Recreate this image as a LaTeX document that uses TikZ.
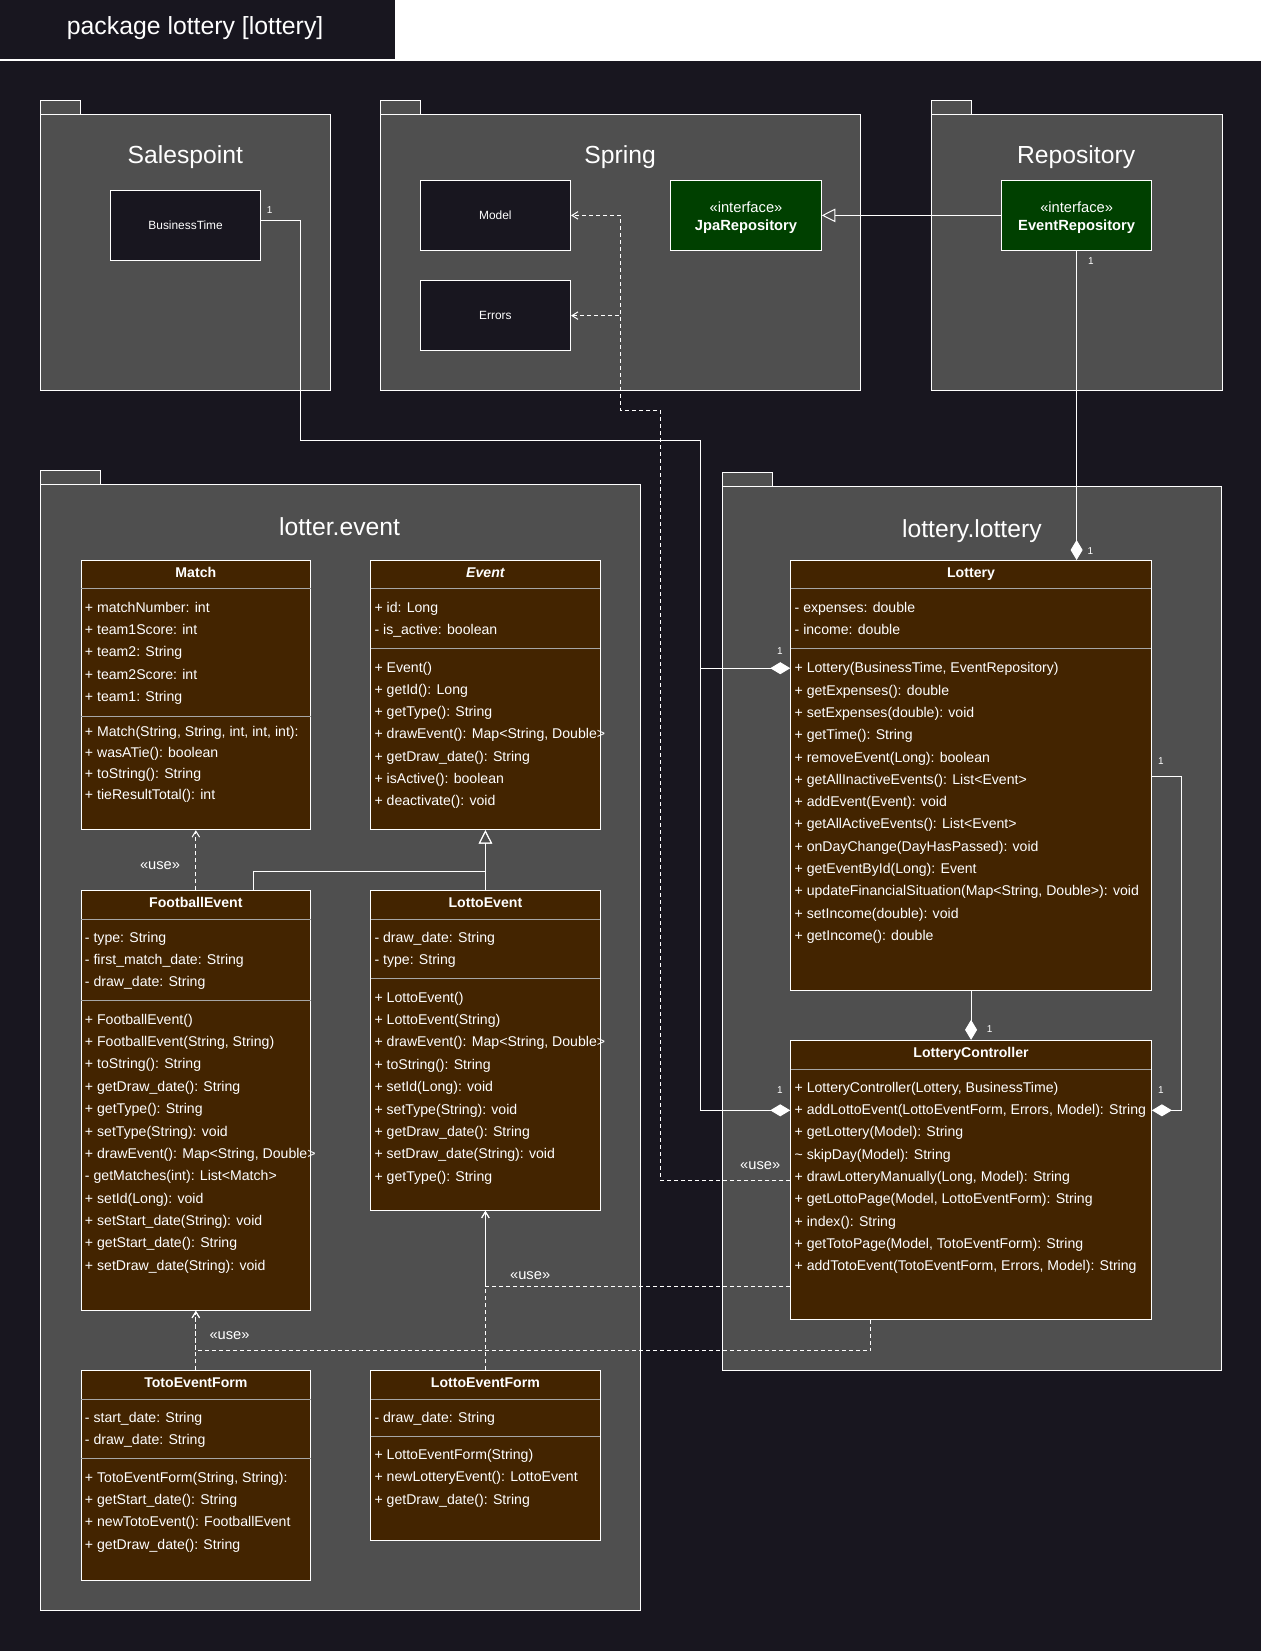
\documentclass[tikz,border=0pt]{standalone}
\usepackage{fontspec}
\setmainfont{Liberation Sans}
\usetikzlibrary{arrows.meta,fit,calc}

\definecolor{bgdark}{HTML}{18161F}
\definecolor{pkggray}{HTML}{4F4F4F}
\definecolor{clsbrown}{HTML}{432400}
\definecolor{ifgreen}{HTML}{004000}
\definecolor{sepgray}{HTML}{A6A6A6}

\tikzset{
  conn/.style={draw=white, line width=1pt},
  comp/.style={conn, -{Diamond[length=20pt,width=12pt,fill=white]}},
  dep/.style={conn, dash pattern=on 4pt off 3pt, -{Straight Barb[length=6pt,width=7.5pt]}},
  gen/.style={conn, -{Triangle[open,length=13.5pt,width=13.5pt]}},
  pkgbox/.style={draw=white, fill=pkggray, line width=1pt, inner sep=0pt},
  clsbox/.style={draw=white, fill=clsbrown, line width=1pt, inner sep=0pt},
  ifbox/.style={draw=white, fill=ifgreen, line width=1pt, inner sep=0pt},
  plainbox/.style={draw=white, fill=bgdark, line width=1pt, inner sep=0pt},
  sepline/.style={draw=sepgray, line width=0.8pt},
  rowtext/.style={anchor=base west, inner sep=0pt, text=white, font=\fontsize{14.1pt}{16pt}\selectfont},
  clsname/.style={anchor=base, inner sep=0pt, text=white, font=\bfseries\fontsize{14.1pt}{16pt}\selectfont},
  pkgtitle/.style={anchor=base, inner sep=0pt, text=white, font=\fontsize{24.7pt}{28pt}\selectfont},
  mult/.style={anchor=base, inner sep=0pt, text=white, font=\fontsize{10pt}{12pt}\selectfont},
  uselabel/.style={anchor=base, inner sep=0pt, text=white, font=\fontsize{14.7pt}{17pt}\selectfont},
  smalltext/.style={anchor=base, inner sep=0pt, text=white, font=\fontsize{11.9pt}{14pt}\selectfont},
  iftext/.style={anchor=base, inner sep=0pt, text=white, font=\fontsize{14.7pt}{17pt}\selectfont},
}

% rows of a class compartment: prefix, left edge, first row centre, row step, list
\newcommand\classrows[5]{%
  \foreach \rowtxt [count=\rowi] in {#5} {
    \node[rowtext] (#1-\rowi) at ({#2+3.5}, {#3+(\rowi-1)*#4+4.3}) {\rowtxt};
  }%
}

\begin{document}
\begin{tikzpicture}[x=1.0526pt, y=-1.0526pt]
\useasboundingbox (0,0) rectangle (1198,1568);
\fill[white] (0,0) rectangle (1198,1568);
\fill[bgdark] (0,0) rectangle (375.3,56.3);
\fill[bgdark] (0,57.9) rectangle (1198,1568);
\node[pkgtitle, font=\fontsize{24.8pt}{28pt}\selectfont] (frame-title) at (185.3,32.3) {package lottery [lottery]};

% ---------- packages ----------
\node[pkgbox, fit={(38.2,95.6) (76.2,108.6)}] (salespoint-tab) {};
\node[pkgbox, fit={(38.2,108.6) (313.9,370.5)}] (salespoint) {};
\node[pkgtitle] (salespoint-title) at (176,155.4) {Salespoint};

\node[pkgbox, fit={(361.2,95.6) (399.2,108.6)}] (spring-tab) {};
\node[pkgbox, fit={(361.2,108.6) (817.6,370.8)}] (spring) {};
\node[pkgtitle] (spring-title) at (589,155.4) {Spring};

\node[pkgbox, fit={(884.4,95.6) (922.7,108.6)}] (repository-tab) {};
\node[pkgbox, fit={(884.4,108.6) (1160.6,370.8)}] (repository) {};
\node[pkgtitle] (repository-title) at (1022,155.4) {Repository};

\node[pkgbox, fit={(38.3,447.2) (95.7,460.1)}] (event-pkg-tab) {};
\node[pkgbox, fit={(38.3,460.1) (608.3,1529.5)}] (event-pkg) {};
\node[pkgtitle] (event-pkg-title) at (322.5,508.3) {lotter.event};

\node[pkgbox, fit={(686.6,448.7) (734,462)}] (lottery-pkg-tab) {};
\node[pkgbox, fit={(686.6,462) (1160,1301.5)}] (lottery-pkg) {};
\node[pkgtitle] (lottery-pkg-title) at (923,510.6) {lottery.lottery};

% ---------- simple boxes ----------
\node[plainbox, fit={(105,180.8) (247.6,247.3)}] (bt) {};
\node[smalltext] (bt-name) at (176.3,217.8) {BusinessTime};
\node[plainbox, fit={(399.2,171.3) (541.9,237.8)}] (model) {};
\node[smalltext] (model-name) at (470.5,208.5) {Model};
\node[plainbox, fit={(399.2,266.7) (541.9,332.8)}] (errors) {};
\node[smalltext] (errors-name) at (470.5,303.7) {Errors};

\node[ifbox, fit={(637,171.3) (780,237.8)}] (jpa) {};
\node[iftext] (jpa-st) at (708.5,201.5) {«interface»};
\node[iftext, font=\bfseries\fontsize{14.7pt}{17pt}\selectfont] (jpa-name) at (708.5,218.6) {JpaRepository};
\node[ifbox, fit={(951,171.3) (1094,237.8)}] (er) {};
\node[iftext] (er-st) at (1022.5,201.5) {«interface»};
\node[iftext, font=\bfseries\fontsize{14.7pt}{17pt}\selectfont] (er-name) at (1022.5,218.6) {EventRepository};

% ---------- classes of lotter.event ----------
\node[clsbox, fit={(77,532.3) (295,788)}] (match) {};
\draw[sepline] (77,559) -- (295,559) (77,680) -- (295,680);
\node[clsname] (match-name) at (186,548.2) {Match};
\classrows{match-a}{77}{577}{21.2}{{+ matchNumber: int},{+ team1Score: int},{+ team2: String},{+ team2Score: int},{+ team1: String}}
\classrows{match-m}{77}{695.1}{20.1}{{+ Match(String, String, int, int, int):},{+ wasATie(): boolean},{+ toString(): String},{+ tieResultTotal(): int}}

\node[clsbox, fit={(352,532.3) (570,788)}] (event) {};
\draw[sepline] (352,559) -- (570,559) (352,616) -- (570,616);
\node[clsname, font=\bfseries\itshape\fontsize{14.1pt}{16pt}\selectfont] (event-name) at (461,548.2) {Event};
\classrows{event-a}{352}{577}{21.2}{{+ id: Long},{- is\_active: boolean}}
\classrows{event-m}{352}{634}{21.15}{{+ Event()},{+ getId(): Long},{+ getType(): String},{+ drawEvent(): Map<String, Double>},{+ getDraw\_date(): String},{+ isActive(): boolean},{+ deactivate(): void}}

\node[clsbox, fit={(77,846) (295,1244.5)}] (football) {};
\draw[sepline] (77,873) -- (295,873) (77,950.5) -- (295,950.5);
\node[clsname] (football-name) at (186,861.7) {FootballEvent};
\classrows{football-a}{77}{890.5}{21.25}{{- type: String},{- first\_match\_date: String},{- draw\_date: String}}
\classrows{football-m}{77}{968.4}{21.25}{{+ FootballEvent()},{+ FootballEvent(String, String)},{+ toString(): String},{+ getDraw\_date(): String},{+ getType(): String},{+ setType(String): void},{+ drawEvent(): Map<String, Double>},{- getMatches(int): List<Match>},{+ setId(Long): void},{+ setStart\_date(String): void},{+ getStart\_date(): String},{+ setDraw\_date(String): void}}

\node[clsbox, fit={(352,846) (570,1149.5)}] (lottoevent) {};
\draw[sepline] (352,873) -- (570,873) (352,929.5) -- (570,929.5);
\node[clsname] (lottoevent-name) at (461,861.7) {LottoEvent};
\classrows{lottoevent-a}{352}{890.5}{21.2}{{- draw\_date: String},{- type: String}}
\classrows{lottoevent-m}{352}{947.5}{21.25}{{+ LottoEvent()},{+ LottoEvent(String)},{+ drawEvent(): Map<String, Double>},{+ toString(): String},{+ setId(Long): void},{+ setType(String): void},{+ getDraw\_date(): String},{+ setDraw\_date(String): void},{+ getType(): String}}

\node[clsbox, fit={(77,1302) (295,1501)}] (totoform) {};
\draw[sepline] (77,1329) -- (295,1329) (77,1385.5) -- (295,1385.5);
\node[clsname] (totoform-name) at (186,1317.8) {TotoEventForm};
\classrows{totoform-a}{77}{1346.5}{21.2}{{- start\_date: String},{- draw\_date: String}}
\classrows{totoform-m}{77}{1403.2}{21.3}{{+ TotoEventForm(String, String):},{+ getStart\_date(): String},{+ newTotoEvent(): FootballEvent},{+ getDraw\_date(): String}}

\node[clsbox, fit={(352,1302) (570,1463)}] (lottoform) {};
\draw[sepline] (352,1329) -- (570,1329) (352,1364) -- (570,1364);
\node[clsname] (lottoform-name) at (461,1317.8) {LottoEventForm};
\classrows{lottoform-a}{352}{1346.5}{21.2}{{- draw\_date: String}}
\classrows{lottoform-m}{352}{1381.6}{21.4}{{+ LottoEventForm(String)},{+ newLotteryEvent(): LottoEvent},{+ getDraw\_date(): String}}

% ---------- classes of lottery.lottery ----------
\node[clsbox, fit={(751,532.3) (1093.5,941)}] (lottery) {};
\draw[sepline] (751,559.2) -- (1093.5,559.2) (751,616.2) -- (1093.5,616.2);
\node[clsname] (lottery-name) at (922.2,548.3) {Lottery};
\classrows{lottery-a}{751}{577.2}{20.8}{{- expenses: double},{- income: double}}
\classrows{lottery-m}{751}{634.6}{21.2}{{+ Lottery(BusinessTime, EventRepository)},{+ getExpenses(): double},{+ setExpenses(double): void},{+ getTime(): String},{+ removeEvent(Long): boolean},{+ getAllInactiveEvents(): List<Event>},{+ addEvent(Event): void},{+ getAllActiveEvents(): List<Event>},{+ onDayChange(DayHasPassed): void},{+ getEventById(Long): Event},{+ updateFinancialSituation(Map<String, Double>): void},{+ setIncome(double): void},{+ getIncome(): double}}

\node[clsbox, fit={(751,988) (1093.5,1253)}] (controller) {};
\draw[sepline] (751,1015.3) -- (1093.5,1015.3);
\node[clsname] (controller-name) at (922.2,1003.9) {LotteryController};
\classrows{controller-m}{751}{1033}{21.2}{{+ LotteryController(Lottery, BusinessTime)},{+ addLottoEvent(LottoEventForm, Errors, Model): String},{+ getLottery(Model): String},{\textasciitilde{} skipDay(Model): String},{+ drawLotteryManually(Long, Model): String},{+ getLottoPage(Model, LottoEventForm): String},{+ index(): String},{+ getTotoPage(Model, TotoEventForm): String},{+ addTotoEvent(TotoEventForm, Errors, Model): String}}

% ---------- connection points ----------
\coordinate (btOut) at ($(bt.east)+(0,-4.5)$);
\coordinate (btBend) at (285.5,418.3);
\coordinate (btJoin) at (665.5,418.3);
\coordinate (lotIn) at (lottery.west |- 0,634.6);
\coordinate (ctlIn) at (controller.west |- 0,1054.5);
\coordinate (lotOut) at (lottery.east |- 0,737);
\coordinate (ctlInR) at (controller.east |- 0,1054.5);
\coordinate (ctlUseA) at (controller.west |- 0,1121.3);
\coordinate (depA) at (627.7,389.8);
\coordinate (depB) at (589.5,389.8);
\coordinate (ctlUseB) at (controller.west |- 0,1221.7);
\coordinate (ctlBot) at (controller.south -| 827,0);
\coordinate (fbGen) at ($(football.north west)!0.752!(football.north east)$);

% ---------- connectors ----------
\draw[comp] (btOut) -| (btBend) -- (btJoin) |- (lotIn);
\draw[comp] (btOut) -| (btBend) -- (btJoin) |- (ctlIn);
\draw[comp] (er.south) -- (er.south |- lottery.north);
\draw[gen] (er.west) -- (jpa.east);
\draw[dep] (ctlUseA) -| (depA) -- (depB) |- (model.east);
\draw[dep] (ctlUseA) -| (depA) -- (depB) |- (errors.east);
\draw[comp] (lottery.south) -- (controller.north);
\draw[comp] (lotOut) -- ++(28.5,0) |- (ctlInR);
\draw[dep] (ctlUseB) -| (lottoevent.south);
\draw[dep] (lottoform.north) -- (lottoevent.south);
\draw[dep] (ctlBot) |- ($(football.south)+(0,38)$) -- (football.south);
\draw[dep] (totoform.north) -- (football.south);
\draw[dep] (football.north) -- (match.south);
\draw[gen] (fbGen) |- ($(event.south)+(0,39)$) -- (event.south);
\draw[gen] (lottoevent.north) -- (event.south);

% ---------- multiplicities and stereotypes ----------
\node[mult] (m-bt) at (256,202.9) {1};
\node[mult] (m-lot-bt) at (740.6,621.2) {1};
\node[mult] (m-ctl-bt) at (740.6,1038.9) {1};
\node[mult] (m-er) at (1036,251) {1};
\node[mult] (m-lot-er) at (1035.6,526.2) {1};
\node[mult] (m-ctl-lot) at (940,980.4) {1};
\node[mult] (m-lot-r) at (1102.6,726.1) {1};
\node[mult] (m-ctl-r) at (1102.6,1038.9) {1};

\node[uselabel] (use-match) at (152,825.5) {«use»};
\node[uselabel] (use-lotto) at (503.5,1215) {«use»};
\node[uselabel] (use-football) at (218,1272) {«use»};
\node[uselabel] (use-spring) at (722,1110.5) {«use»};
\end{tikzpicture}
\end{document}
